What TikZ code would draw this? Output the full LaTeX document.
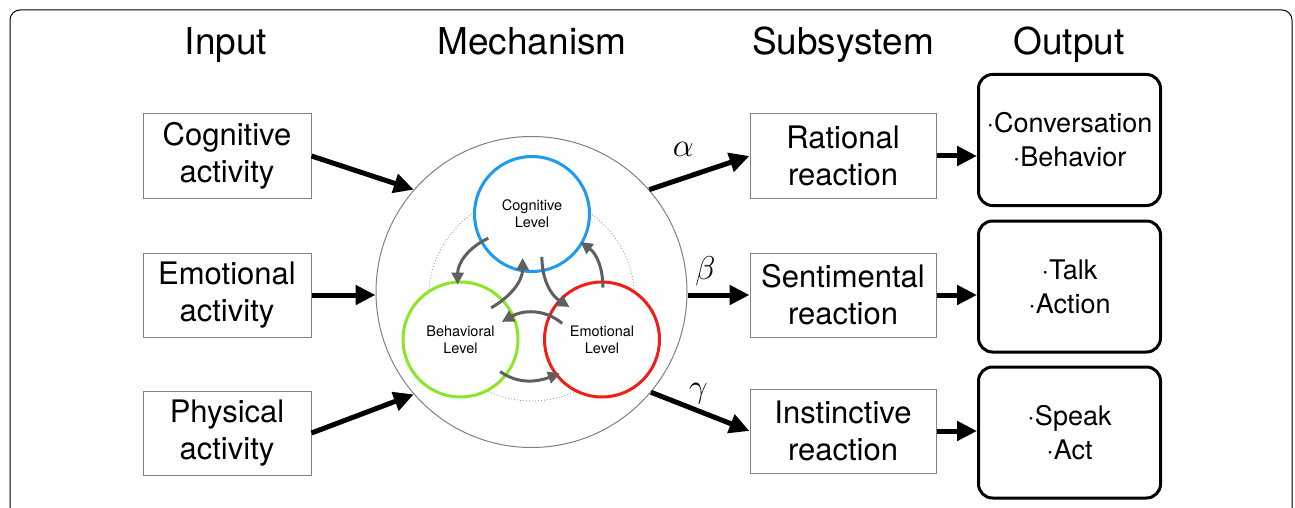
\documentclass[tikz,border=0pt]{standalone}
\usepackage{fix-cm}
\usepackage{fontspec}
\setmainfont{TeX Gyre Heros}
\usetikzlibrary{arrows.meta,calc}

\definecolor{cogblue}{RGB}{30,155,240}
\definecolor{behgreen}{RGB}{140,230,40}
\definecolor{emored}{RGB}{240,30,20}
\definecolor{cyclegray}{RGB}{95,95,95}

\tikzset{
        header/.style={anchor=base, font=\fontsize{37}{44}\selectfont},
        inbox/.style={draw=gray, line width=1pt, minimum width=168pt, minimum height=84pt,
                align=center, font=\fontsize{31}{37}\selectfont},
        subbox/.style={inbox, minimum width=186pt},
        outbox/.style={draw, line width=3pt, rounded corners=14pt, minimum width=182pt,
                minimum height=131pt, align=center, font=\fontsize{27}{34}\selectfont},
        level/.style={circle, fill=white, line width=3pt, minimum size=115pt, inner sep=0pt,
                align=center, font=\fontsize{14.5}{17}\selectfont},
        bigarrow/.style={line width=5pt, -{Triangle[length=20pt,width=19pt]}},
        cyclearrow/.style={cyclegray, line width=3pt, -{Triangle[length=12pt,width=12pt]}},
        greek/.style={inner sep=1pt, font=\fontsize{33}{40}\selectfont}
}

\begin{document}
\begin{tikzpicture}[x=1pt, y=1pt]
        \useasboundingbox (0,0) rectangle (1295,507);
        % frame, open at the bottom
        \draw[line width=1pt, rounded corners=10pt] (10,-20) -- (10,497) -- (1292,497) -- (1292,-20);

        % column headers
        \node[header] at (226,452)  (hin)  {Input};
        \node[header] at (532,452)  (hmec) {Mechanism};
        \node[header] at (843,452)  (hsub) {Subsystem};
        \node[header] at (1069,452) (hout) {Output};

        % place nodes
        \node[inbox] at (227,351) (incog) {Cognitive\\activity};
        \node[inbox] at (227,212) (inemo) {Emotional\\activity};
        \node[inbox] at (227,74)  (inphy) {Physical\\activity};

        \node[circle, draw=gray, line width=1pt, minimum size=311pt, inner sep=0pt] at (531.5,215) (mech) {};
        \draw[gray!80, line width=0.8pt, dash pattern=on 1pt off 2pt] ($(mech)+(0,-6)$) circle (103pt);

        \node[level, draw=cogblue]  at (532,293)     (cog) {Cognitive\\Level};
        \node[level, draw=behgreen] at (460.5,167.5) (beh) {Behavioral\\Level};
        \node[level, draw=emored]   at (602,167.5)   (emo) {Emotional\\Level};

        \node[subbox] at (843,351) (subrat) {Rational\\reaction};
        \node[subbox] at (843,212) (subsen) {Sentimental\\reaction};
        \node[subbox] at (843,76)  (subins) {Instinctive\\reaction};

        \node[outbox] at (1069.5,367)   (outrat) {·Conversation\\·Behavior};
        \node[outbox] at (1069.5,220.5) (outsen) {·Talk\\·Action};
        \node[outbox] at (1069.5,74.5)  (outins) {·Speak\\·Act};

        % draw edges
        \draw[cyclearrow] ($(cog)+(209:50)$) to[out=205, in=90]  ($(beh)+(93:55)$);
        \draw[cyclearrow] ($(beh)+(46:44)$)  to[out=30, in=-90]  ($(cog)+(258:45)$);
        \draw[cyclearrow] ($(cog)+(283:44)$) to[out=-90, in=148] ($(emo)+(135:46)$);
        \draw[cyclearrow] ($(emo)+(89:52)$)  to[out=90, in=-36]  ($(cog)+(330:56)$);
        \draw[cyclearrow] ($(emo)+(158:43)$) to[out=140, in=30]  ($(beh)+(23:45)$);
        \draw[cyclearrow] ($(beh)+(321:51)$) to[out=-35, in=200] ($(emo)+(219:54)$);

        \draw[bigarrow] (incog.east) -- (mech.139);
        \draw[bigarrow] (inemo.east) -- (mech.west |- inemo.east);
        \draw[bigarrow] (inphy.east) -- (mech.221);

        \draw[bigarrow] (mech.41) -- node[greek, pos=0.34, above=18pt] {$\alpha$} (subrat.west);
        \draw[bigarrow] (mech.east |- subsen.west) -- node[greek, pos=0.29, above=6pt] {$\beta$} (subsen.west);
        \draw[bigarrow] (mech.320) -- node[greek, pos=0.48, above=3pt] {$\gamma$} (subins.west);

        \draw[bigarrow] (subrat.east) -- (subrat.east -| outrat.west);
        \draw[bigarrow] (subsen.east) -- (subsen.east -| outsen.west);
        \draw[bigarrow] (subins.east) -- (subins.east -| outins.west);
\end{tikzpicture}
\end{document}
